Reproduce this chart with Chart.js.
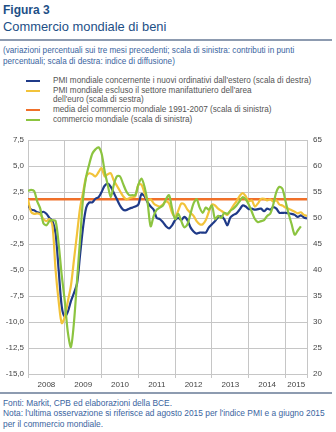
<!DOCTYPE html>
<html>
<head>
<meta charset="utf-8">
<script src="https://cdn.jsdelivr.net/npm/chart.js@4.4.1/dist/chart.umd.min.js"></script>
<style>
    body { margin: 0; background: #fff; font-family: "Liberation Sans", Arial, sans-serif; }
    #pagina { position: relative; width: 336px; height: 432px; overflow: hidden; }
    .titolo { position: absolute; left: 3px; top: 3px; font-size: 12px; font-weight: bold; color: #1d4f86; }
    .sottotitolo { position: absolute; left: 3px; top: 19px; font-size: 12.9px; color: #1d4f86; }
    .riga { position: absolute; left: 0; width: 332px; height: 2px; background: #8d9bb0; }
    .nota-alto { position: absolute; left: 3px; top: 44.5px; font-size: 8.2px; line-height: 11px; color: #3a64a0; white-space: nowrap; }
    #legenda { position: absolute; left: 26px; top: 76px; font-size: 8.2px; line-height: 9px; color: #555; white-space: nowrap; }
    .voce { position: relative; padding-left: 27px; margin-bottom: 1px; }
    .voce span { position: absolute; left: 0; top: 3.5px; width: 14px; height: 2.5px; }
    #grafico { position: absolute; left: 0; top: 128px; }
    .fonti { position: absolute; left: 3px; top: 397.5px; font-size: 8.4px; line-height: 10.7px; color: #3a64a0; white-space: nowrap; }
</style>
</head>
<body>
<div id="pagina">
    <div class="titolo">Figura 3</div>
    <div class="sottotitolo">Commercio mondiale di beni</div>
    <div class="riga" style="top: 39px;"></div>
    <div class="nota-alto">(variazioni percentuali sui tre mesi precedenti; scala di sinistra: contributi in punti<br>percentuali; scala di destra: indice di diffusione)</div>
    <div id="legenda"></div>
    <canvas id="grafico" width="336" height="264"></canvas>
    <div class="riga" style="top: 392px;"></div>
    <div class="fonti">Fonti: Markit, CPB ed elaborazioni della BCE.<br>Nota: l'ultima osservazione si riferisce ad agosto 2015 per l'indice PMI e a giugno 2015<br>per il commercio mondiale.</div>
</div>

<script>
    // mesi da gennaio 2008 (0) ad agosto 2015 (91)
    const anni = ['2008', '2009', '2010', '2011', '2012', '2013', '2014', '2015'];
    const inizioAnni = [0, 12, 24, 36, 48, 60, 72, 84, 91];
    const centroAnni = [6, 18, 30, 42, 54, 66, 78, 87.5];

    // PMI nuovi ordinativi dall'estero (scala di destra)
    const pmiOrdinativiEstero = [
        52.5, 51.6, 51.5, 51.1, 51.0, 51.2, 50.8, 50.0, 49.4, 47.0, 40.0, 33.0,
        31.0, 32.0, 34.0, 35.6, 37.4, 43.0, 48.4, 52.0, 53.0, 53.0, 53.7, 54.0,
        55.0, 56.2, 56.6, 56.0, 54.8, 53.6, 52.4, 51.6, 51.5, 51.8, 52.0, 52.2,
        52.6, 54.6, 54.2, 53.0, 52.2, 51.6, 50.0, 49.8, 49.2, 48.4, 48.0, 48.6,
        49.6, 50.0, 49.6, 50.2, 49.6, 48.2, 47.4, 47.0, 47.2, 47.2, 47.2, 48.2,
        48.8, 49.4, 50.1, 50.3, 49.8, 48.6, 50.1, 50.6, 50.9, 51.6, 52.4, 52.2,
        51.7, 51.8, 51.6, 51.7, 51.8, 51.3, 51.8, 51.6, 52.1, 51.8, 51.0, 51.0,
        51.0, 50.9, 50.8, 50.6, 50.2, 50.5, 50.1, 49.9
    ];

    // PMI escluso il settore manifatturiero dell'area dell'euro (scala di destra)
    const pmiEsclusoEuro = [
        53.6, 51.2, 50.8, 50.9, 50.7, 49.8, 49.4, 49.8, 48.4, 40.0, 34.0, 29.8,
        31.0, 34.0, 37.0, 42.0, 47.0, 52.0, 55.0, 58.0, 58.6, 58.4, 58.0, 58.8,
        59.6, 58.0, 58.4, 58.6, 57.2, 56.2, 55.2, 54.2, 53.6, 53.8, 54.0, 54.2,
        56.4, 56.4, 54.8, 53.4, 53.6, 52.8, 52.4, 52.2, 52.6, 53.2, 52.8, 51.0,
        50.2, 51.4, 52.8, 52.6, 51.6, 51.0, 50.4, 49.4, 48.8, 48.8, 49.6, 51.2,
        52.6, 52.4, 51.8, 51.4, 51.0, 50.6, 51.4, 52.4, 53.2, 54.2, 54.8, 54.2,
        53.2, 53.4, 52.2, 52.8, 53.7, 53.7, 53.4, 53.6, 53.2, 53.4, 52.6, 52.4,
        52.0, 51.8, 51.5, 51.2, 50.9, 51.1, 50.6, 50.4
    ];

    // media del commercio mondiale 1991-2007 (scala di sinistra)
    const mediaStoricaMesi = [0, 91];
    const mediaStoricaValori = [1.8, 1.8];

    // commercio mondiale (scala di sinistra), fino a giugno 2015
    const commercioMondiale = [
        2.6, 2.7, 2.6, 1.6, 0.9, -0.5, -0.7, -0.3, -0.2, -0.3, -2.5, -5.5,
        -8.0, -11.0, -12.4, -10.0, -6.0, -2.0, 2.0, 4.0, 5.2, 6.2, 6.6, 6.8,
        6.2, 4.5, 3.2, 2.0, 3.2, 4.0, 4.0, 3.3, 2.6, 2.2, 2.2, 2.2,
        3.2, 3.8, 3.0, 1.5, -0.8, 0.2, 0.8, 1.0, 1.2, 1.8, 2.2, 0.9,
        -0.1, 0.4, -0.3, -0.9, -0.6, 0.4, 1.4, 1.8, 1.0, 0.5, 1.0, 0.8,
        1.2, -0.1, 0.2, 0.0, 0.5, 0.4, 0.7, 0.9, 1.2, 1.6, 2.0, 1.8,
        1.3, 0.6, -0.1, -0.4, -0.3, -0.2, 0.2, 0.4, 1.3, 2.5, 3.0, 2.8,
        1.6, 0.4, -0.6, -1.6, -1.2, -0.8
    ];

    const coloreBlu = '#1f3a88';
    const coloreGiallo = '#f2c33a';
    const coloreArancio = '#f0702a';
    const coloreVerde = '#8cc440';
    const coloreGriglia = '#c6c6c6';

    const vociLegenda = [
        { colore: coloreBlu, testo: "PMI mondiale concernente i nuovi ordinativi dall'estero (scala di destra)" },
        { colore: coloreGiallo, testo: "PMI mondiale escluso il settore manifatturiero dell'area<br>dell'euro (scala di sestra)" },
        { colore: coloreArancio, testo: "media del commercio mondiale 1991-2007 (scala di sinistra)" },
        { colore: coloreVerde, testo: "commercio mondiale (scala di sinistra)" }
    ];

    document.getElementById('legenda').innerHTML = vociLegenda
        .map((v) => `<div class="voce"><span style="background:${v.colore}"></span>${v.testo}</div>`)
        .join('');

    const punti = (valori) => valori.map((v, i) => ({ x: i, y: v }));

    const lineaBase = {
        pointRadius: 0,
        borderWidth: 2.2,
        tension: 0.3,
        fill: false
    };

    Chart.defaults.font.family = '"Liberation Sans", Arial, sans-serif';
    Chart.defaults.font.size = 8;
    Chart.defaults.color = '#444';

    const virgola = (v) => v.toFixed(1).replace('.', ',');

    new Chart(document.getElementById('grafico'), {
        type: 'line',
        data: {
            datasets: [
                {
                    ...lineaBase,
                    label: 'PMI ordinativi esteri',
                    data: punti(pmiOrdinativiEstero),
                    borderColor: coloreBlu,
                    yAxisID: 'y1',
                    order: 3
                },
                {
                    ...lineaBase,
                    label: 'PMI escluso area euro',
                    data: punti(pmiEsclusoEuro),
                    borderColor: coloreGiallo,
                    yAxisID: 'y1',
                    order: 2
                },
                {
                    ...lineaBase,
                    label: 'media 1991-2007',
                    data: mediaStoricaMesi.map((m, i) => ({ x: m, y: mediaStoricaValori[i] })),
                    borderColor: coloreArancio,
                    borderWidth: 2.6,
                    tension: 0,
                    yAxisID: 'y',
                    order: 4
                },
                {
                    ...lineaBase,
                    label: 'commercio mondiale',
                    data: punti(commercioMondiale),
                    borderColor: coloreVerde,
                    yAxisID: 'y',
                    order: 1
                }
            ]
        },
        options: {
            responsive: false,
            animation: false,
            layout: { padding: { top: 12, left: 0, right: 0, bottom: 0 } },
            plugins: {
                legend: { display: false },
                tooltip: { enabled: false }
            },
            scales: {
                x: {
                    type: 'linear',
                    min: 0,
                    max: 91,
                    afterBuildTicks: (scale) => {
                        scale.ticks = [...inizioAnni, ...centroAnni]
                            .sort((a, b) => a - b)
                            .map((v) => ({ value: v }));
                    },
                    afterFit: (scale) => { scale.height = 18; },
                    ticks: {
                        autoSkip: false,
                        maxRotation: 0,
                        padding: 2,
                        callback: (value) => {
                            const k = centroAnni.indexOf(value);
                            return k >= 0 ? anni[k] : '';
                        }
                    },
                    grid: {
                        color: (ctx) => inizioAnni.includes(ctx.tick.value) ? coloreGriglia : 'rgba(0,0,0,0)',
                        tickLength: 4
                    },
                    border: { display: false }
                },
                y: {
                    position: 'left',
                    min: -15,
                    max: 7.5,
                    afterBuildTicks: (scale) => {
                        const t = [];
                        for (let v = -15; v <= 7.5; v += 2.5) t.push({ value: v });
                        scale.ticks = t;
                    },
                    afterFit: (scale) => { scale.width = 28; },
                    ticks: {
                        padding: 4,
                        callback: (value) => virgola(value)
                    },
                    grid: { color: coloreGriglia, drawTicks: false },
                    border: { display: false }
                },
                y1: {
                    position: 'right',
                    min: 20,
                    max: 65,
                    afterBuildTicks: (scale) => {
                        const t = [];
                        for (let v = 20; v <= 65; v += 5) t.push({ value: v });
                        scale.ticks = t;
                    },
                    afterFit: (scale) => { scale.width = 29; },
                    ticks: { padding: 6 },
                    grid: { drawOnChartArea: false, drawTicks: false },
                    border: { display: false }
                }
            }
        }
    });
</script>
</body>
</html>
